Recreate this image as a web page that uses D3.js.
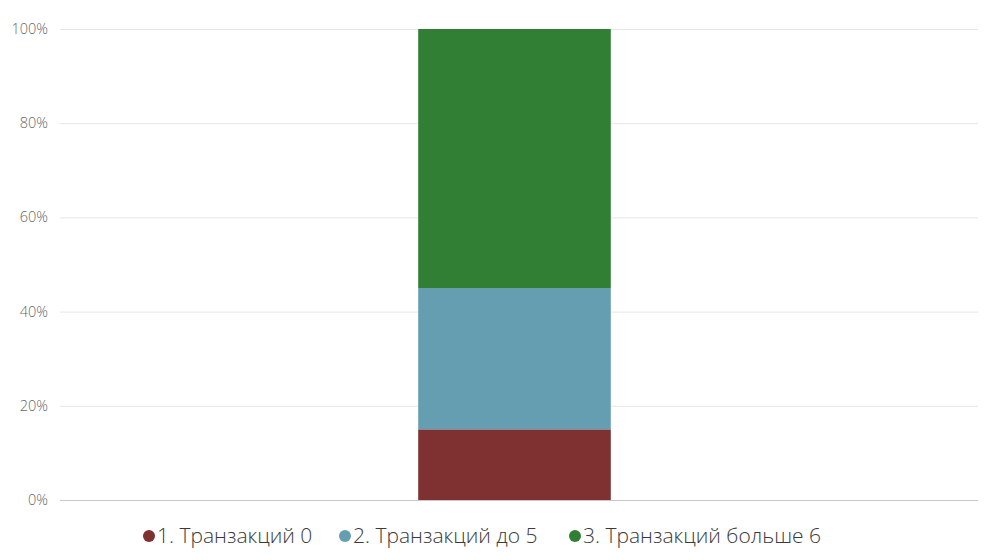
<!DOCTYPE html>
<html><head><meta charset="utf-8">
<script src="https://cdn.jsdelivr.net/npm/d3@7"></script>
<style>body{margin:0;background:#fff;}svg{display:block;}</style>
</head><body>
<svg id="c" width="1001" height="560"></svg>
<script>
const categories = ["Всего"];
const seriesNames = ["1. Транзакций 0", "2. Транзакций до 5", "3. Транзакций больше 6"];
const seriesColors = ["#7f3131", "#669eb1", "#317f34"];
const values0 = [15];
const values1 = [30];
const values2 = [55];
const yTicks = [0, 20, 40, 60, 80, 100];

const svg = d3.select("#c");
const y = d3.scaleLinear().domain([0, 100]).range([500, 29]);
const x = d3.scaleBand().domain(categories).range([60, 969]).paddingInner(0).paddingOuter(1.86);

svg.append("g").selectAll("line").data(yTicks.filter(d => d > 0)).join("line")
  .attr("x1", 60).attr("x2", 978).attr("y1", d => y(d) + 0.5).attr("y2", d => y(d) + 0.5)
  .attr("stroke", "#e6e6e6").attr("stroke-width", 1);

svg.append("g").selectAll("text").data(yTicks).join("text")
  .attr("x", 48).attr("y", d => y(d)).attr("dy", "0.35em").attr("text-anchor", "end")
  .attr("font-family", "Open Sans, sans-serif").attr("font-weight", 300).attr("font-size", 14.5).attr("fill", "#666")
  .text(d => d + "%");

const data = categories.map((c, i) => ({cat: c, s0: values0[i], s1: values1[i], s2: values2[i]}));
const stack = d3.stack().keys(["s0", "s1", "s2"])(data);
svg.append("g").selectAll("g").data(stack).join("g")
  .attr("fill", (d, i) => seriesColors[i])
  .selectAll("rect").data(d => d).join("rect")
  .attr("x", d => x(d.data.cat)).attr("width", x.bandwidth())
  .attr("y", d => y(d[1])).attr("height", d => y(d[0]) - y(d[1]));

svg.append("line").attr("x1", 60).attr("x2", 978).attr("y1", 500.5).attr("y2", 500.5)
  .attr("stroke", "#c8c8c8").attr("stroke-width", 1);

const legX = [149, 345, 575];
const leg = svg.append("g").selectAll("g").data(seriesNames).join("g")
  .attr("transform", (d, i) => `translate(${legX[i]},536)`);
leg.append("circle").attr("r", 6).attr("fill", (d, i) => seriesColors[i]);
leg.append("text").attr("x", 8).attr("dy", "0.35em")
  .attr("font-family", "Open Sans, sans-serif").attr("font-weight", 300).attr("font-size", 21).attr("fill", "#3a3a3a")
  .text(d => d);
</script>
</body></html>
